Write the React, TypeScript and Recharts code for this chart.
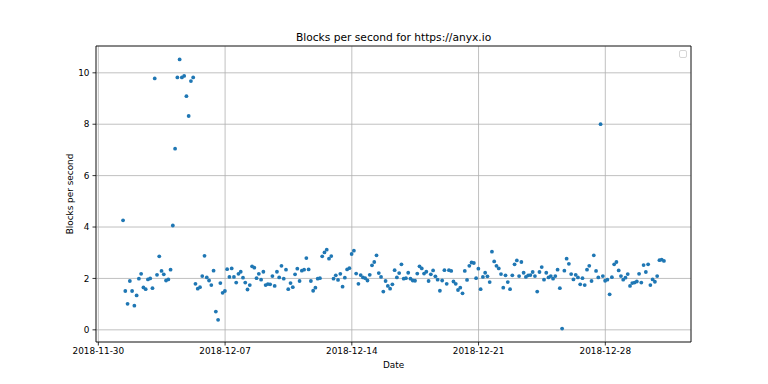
import React from 'react';
import {
  ScatterChart,
  Scatter,
  XAxis,
  YAxis,
  CartesianGrid,
  ReferenceArea,
} from 'recharts';

// first sample time (UTC) and sampling interval
const START_TIME = Date.UTC(2018, 11, 1, 8, 45);
const STEP_HOURS = 3;

// blocks per second, one value every 3 hours
const blocksPerSecond: number[] = [
  4.26, 1.51, 1.01, 1.9, 1.51, 0.94, 1.34, 1.99, 2.18, 1.65,
  1.58, 1.96, 2.0, 1.62, 9.78, 2.14, 2.86, 2.29, 2.16, 1.92,
  1.96, 2.34, 4.06, 7.05, 9.82, 10.52, 9.82, 9.88, 9.09, 8.32,
  9.68, 9.82, 1.79, 1.6, 1.66, 2.09, 2.88, 2.04, 1.92, 1.74,
  2.3, 0.71, 0.39, 1.82, 1.44, 1.51, 2.36, 2.06, 2.39, 2.06,
  1.84, 2.18, 2.26, 2.03, 1.84, 1.57, 1.74, 2.47, 2.42, 2.01,
  2.18, 1.95, 2.26, 1.74, 1.78, 1.77, 2.09, 1.71, 2.26, 2.04,
  2.49, 1.99, 2.34, 1.58, 1.82, 1.66, 2.16, 2.38, 1.9, 2.3,
  2.34, 2.79, 2.35, 1.9, 1.52, 1.64, 1.99, 2.01, 2.86, 3.01,
  3.12, 2.77, 2.87, 1.99, 2.12, 1.94, 2.18, 1.68, 2.03, 2.35,
  2.4, 2.95, 3.08, 2.19, 1.79, 2.13, 2.04, 2.01, 1.92, 2.14,
  2.51, 2.64, 2.9, 2.21, 2.06, 1.49, 1.9, 1.71, 1.6, 1.77,
  2.32, 2.04, 2.21, 2.55, 1.99, 2.01, 2.22, 1.99, 1.92, 1.91,
  2.19, 2.47, 2.39, 2.19, 2.26, 1.9, 2.16, 2.31, 2.08, 1.95,
  1.52, 1.92, 2.32, 1.79, 2.32, 2.29, 1.88, 1.79, 1.55, 1.64,
  1.42, 2.29, 1.94, 2.49, 2.62, 2.6, 2.01, 2.38, 1.58, 2.06,
  2.22, 2.08, 1.86, 3.04, 2.66, 2.49, 2.39, 2.17, 1.64, 2.12,
  1.86, 1.58, 2.12, 2.55, 2.7, 2.09, 2.64, 2.22, 2.06, 2.12,
  2.13, 2.25, 2.09, 1.49, 2.25, 2.44, 1.95, 2.22, 2.04, 2.09,
  1.99, 2.09, 2.34, 1.62, 0.05, 2.3, 2.77, 2.57, 2.17, 1.96,
  2.14, 2.04, 1.77, 2.01, 1.74, 2.34, 2.49, 1.9, 2.9, 2.29,
  2.04, 8.0, 2.09, 1.91, 1.95, 1.38, 2.05, 2.55, 2.64, 2.31,
  2.09, 1.95, 2.03, 2.17, 1.71, 1.82, 1.84, 1.88, 2.18, 1.84,
  2.52, 2.25, 2.55, 1.74, 1.96, 1.87, 2.09, 2.71, 2.73, 2.68,
];

const xTickDates = ['2018-11-30', '2018-12-07', '2018-12-14', '2018-12-21', '2018-12-28'];
const yTicks = [0, 2, 4, 6, 8, 10];

const TITLE = 'Blocks per second for https://anyx.io';
const X_LABEL = 'Date';
const Y_LABEL = 'Blocks per second';

const data = blocksPerSecond.map((v, i) => ({
  t: START_TIME + i * STEP_HOURS * 3600000,
  v,
}));

const toTs = (s: string) => {
  const [y, m, d] = s.split('-').map(Number);
  return Date.UTC(y, m - 1, d);
};
const xTicks = xTickDates.map(toTs);

const tMin = Math.min(...data.map((d) => d.t));
const tMax = Math.max(...data.map((d) => d.t));
const vMin = Math.min(...blocksPerSecond);
const vMax = Math.max(...blocksPerSecond);
const xDomain: [number, number] = [tMin - 0.05 * (tMax - tMin), tMax + 0.05 * (tMax - tMin)];
const yDomain: [number, number] = [vMin - 0.05 * (vMax - vMin), vMax + 0.05 * (vMax - vMin)];

const pad = (n: number) => (n < 10 ? '0' + n : '' + n);
const fmtDate = (t: number) => {
  const d = new Date(t);
  return `${d.getUTCFullYear()}-${pad(d.getUTCMonth() + 1)}-${pad(d.getUTCDate())}`;
};

const FONT = '"DejaVu Sans", sans-serif';
const tickStyle = { fontSize: 8.9, fill: '#000', fontFamily: FONT };

const Dot = (props: any) => {
  const { cx, cy } = props;
  if (cx == null || cy == null) return null;
  return <circle cx={cx} cy={cy} r={1.9} fill="#1f77b4" />;
};

export default function App() {
  return (
    <div style={{ position: 'absolute', left: 0, top: 0, width: 768, height: 384, background: '#fff' }}>
      <ScatterChart width={768} height={384} margin={{ top: 46, right: 77, bottom: 0, left: 0 }}>
        <CartesianGrid stroke="#b0b0b0" strokeWidth={0.8} />
        <XAxis
          type="number"
          dataKey="t"
          domain={xDomain}
          ticks={xTicks}
          tickFormatter={fmtDate}
          allowDataOverflow
          height={42}
          tick={tickStyle}
          tickSize={3.5}
          tickMargin={2.5}
          axisLine={false}
          tickLine={{ stroke: '#000', strokeWidth: 0.8 }}
        />
        <YAxis
          type="number"
          dataKey="v"
          domain={yDomain}
          ticks={yTicks}
          allowDataOverflow
          width={96}
          tick={tickStyle}
          tickSize={3.5}
          tickMargin={3}
          axisLine={false}
          tickLine={{ stroke: '#000', strokeWidth: 0.8 }}
        />
        <ReferenceArea
          x1={xDomain[0]}
          x2={xDomain[1]}
          y1={yDomain[0]}
          y2={yDomain[1]}
          fill="none"
          stroke="#000"
          strokeWidth={0.8}
          ifOverflow="visible"
        />
        <Scatter data={data} shape={<Dot />} isAnimationActive={false} />
        <text x={393.6} y={40.5} textAnchor="middle" fontFamily={FONT} fontSize={10.67} fill="#000">
          {TITLE}
        </text>
        <text x={393.6} y={368} textAnchor="middle" fontFamily={FONT} fontSize={8.9} fill="#000">
          {X_LABEL}
        </text>
        <text
          x={73}
          y={194}
          textAnchor="middle"
          fontFamily={FONT}
          fontSize={8.9}
          fill="#000"
          transform="rotate(-90 73 194)"
        >
          {Y_LABEL}
        </text>
        <rect x={679.5} y={50.5} width={7} height={7} rx={1.5} fill="#fff" stroke="#cccccc" strokeWidth={0.8} />
      </ScatterChart>
    </div>
  );
}
